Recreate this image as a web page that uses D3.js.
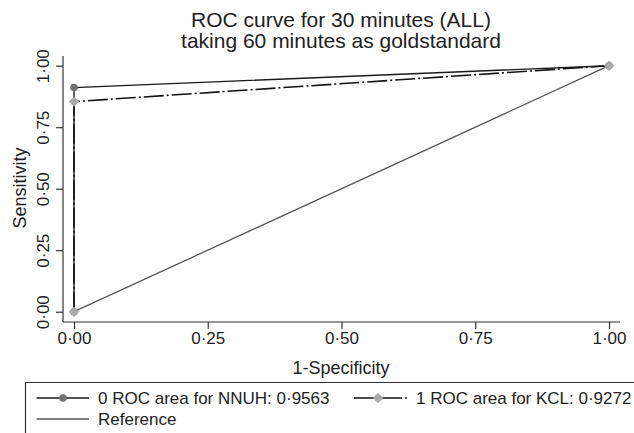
<!DOCTYPE html>
<html><head><meta charset="utf-8">
<script src="https://cdn.jsdelivr.net/npm/d3@7"></script>
<style>body{margin:0;background:#fff}svg{display:block}text{font-family:"Liberation Sans",Arial,sans-serif;fill:#222}</style>
</head><body><svg id="c" width="634" height="433"></svg>
<script>
const titleLines = ["ROC curve for 30 minutes (ALL)", "taking 60 minutes as goldstandard"];
const xLabel = "1-Specificity";
const yLabel = "Sensitivity";
const ticks = [0, 0.25, 0.5, 0.75, 1];
const nnuhX = [0, 0, 1];
const nnuhY = [0, 0.911, 1];
const kclX = [0, 0, 1];
const kclY = [0, 0.854, 1];
const refX = [0, 1];
const refY = [0, 1];
const legendLabels = ["0 ROC area for NNUH: 0·9563", "1 ROC area for KCL: 0·9272", "Reference"];

const svg = d3.select("#c");
const x = d3.scaleLinear().domain([0, 1]).range([74, 609]);
const y = d3.scaleLinear().domain([0, 1]).range([311.7, 65.7]);
const fmt = d => d3.format(".2f")(d).replace(".", "·");

// title
svg.append("text").attr("x", 341).attr("y", 27).attr("text-anchor", "middle").style("font-size", "21px").text(titleLines[0]);
svg.append("text").attr("x", 341).attr("y", 48).attr("text-anchor", "middle").style("font-size", "21px").text(titleLines[1]);

// axes
const ax = svg.append("g").attr("transform", "translate(0,322)")
  .call(d3.axisBottom(x).tickValues(ticks).tickFormat(fmt).tickSizeOuter(0).tickSize(7).tickPadding(3));
ax.select(".domain").attr("d", "M63,0H620");
const ay = svg.append("g").attr("transform", "translate(63,0)")
  .call(d3.axisLeft(y).tickValues(ticks).tickFormat(fmt).tickSizeOuter(0).tickSize(7).tickPadding(3));
ay.select(".domain").attr("d", "M0,56V322");
[ax, ay].forEach(g => {
  g.selectAll("path,line").attr("stroke", "#333").attr("stroke-width", 1.2);
  g.selectAll("text").style("font-size", "17px").attr("fill", "#222").style("font-family", '"Liberation Sans",Arial,sans-serif');
});
ay.selectAll(".tick text").attr("transform", "rotate(-90)")
  .attr("x", 0).attr("dy", 0).attr("y", -14).attr("text-anchor", "middle");

svg.append("text").attr("x", 341).attr("y", 374).attr("text-anchor", "middle").style("font-size", "18px").text(xLabel);
svg.append("text").attr("transform", "translate(26,188) rotate(-90)").attr("text-anchor", "middle").style("font-size", "18px").text(yLabel);

// lines
const line = d3.line();
const pts = (xs, ys) => xs.map((v, i) => [x(v), y(ys[i])]);
svg.append("path").attr("d", line(pts(refX, refY))).attr("fill", "none").attr("stroke", "#555").attr("stroke-width", 1.3);
svg.append("path").attr("d", line(pts(nnuhX, nnuhY))).attr("fill", "none").attr("stroke", "#1a1a1a").attr("stroke-width", 1.4);
svg.append("path").attr("d", line(pts(kclX, kclY))).attr("fill", "none").attr("stroke", "#111").attr("stroke-width", 1.6).attr("stroke-dasharray", "20,3,2,3");

const diamond = (cx, cy, r) => `M${cx},${cy - r}L${cx + r},${cy}L${cx},${cy + r}L${cx - r},${cy}Z`;
svg.selectAll(".nm").data(pts(nnuhX, nnuhY)).enter().append("circle")
  .attr("cx", d => d[0]).attr("cy", d => d[1]).attr("r", 3.8).attr("fill", "#737373");
svg.selectAll(".km").data(pts(kclX, kclY)).enter().append("path")
  .attr("d", d => diamond(d[0], d[1], 5.2)).attr("fill", "#a9a9a9");

// legend
svg.append("path").attr("d", "M25.5,440V382.5H640").attr("fill", "none").attr("stroke", "#333").attr("stroke-width", 1.2);
const lg = svg.append("g");
// entry 1
lg.append("line").attr("x1", 36.5).attr("x2", 89).attr("y1", 398).attr("y2", 398).attr("stroke", "#1a1a1a").attr("stroke-width", 1.4);
lg.append("circle").attr("cx", 63).attr("cy", 398).attr("r", 3.8).attr("fill", "#737373");
lg.append("text").attr("x", 98).attr("y", 404).style("font-size", "17px").text(legendLabels[0]);
// entry 2
lg.append("line").attr("x1", 352).attr("x2", 409).attr("y1", 398).attr("y2", 398).attr("stroke", "#111").attr("stroke-width", 1.6).attr("stroke-dasharray", "20,3,2,3").attr("stroke-dashoffset", -2);
lg.append("path").attr("d", diamond(378, 398, 5.2)).attr("fill", "#a9a9a9");
lg.append("text").attr("x", 416).attr("y", 404).style("font-size", "17px").text(legendLabels[1]);
// entry 3
lg.append("line").attr("x1", 36.5).attr("x2", 89).attr("y1", 419).attr("y2", 419).attr("stroke", "#555").attr("stroke-width", 1.3);
lg.append("text").attr("x", 98).attr("y", 425).style("font-size", "17px").text(legendLabels[2]);
</script></body></html>
